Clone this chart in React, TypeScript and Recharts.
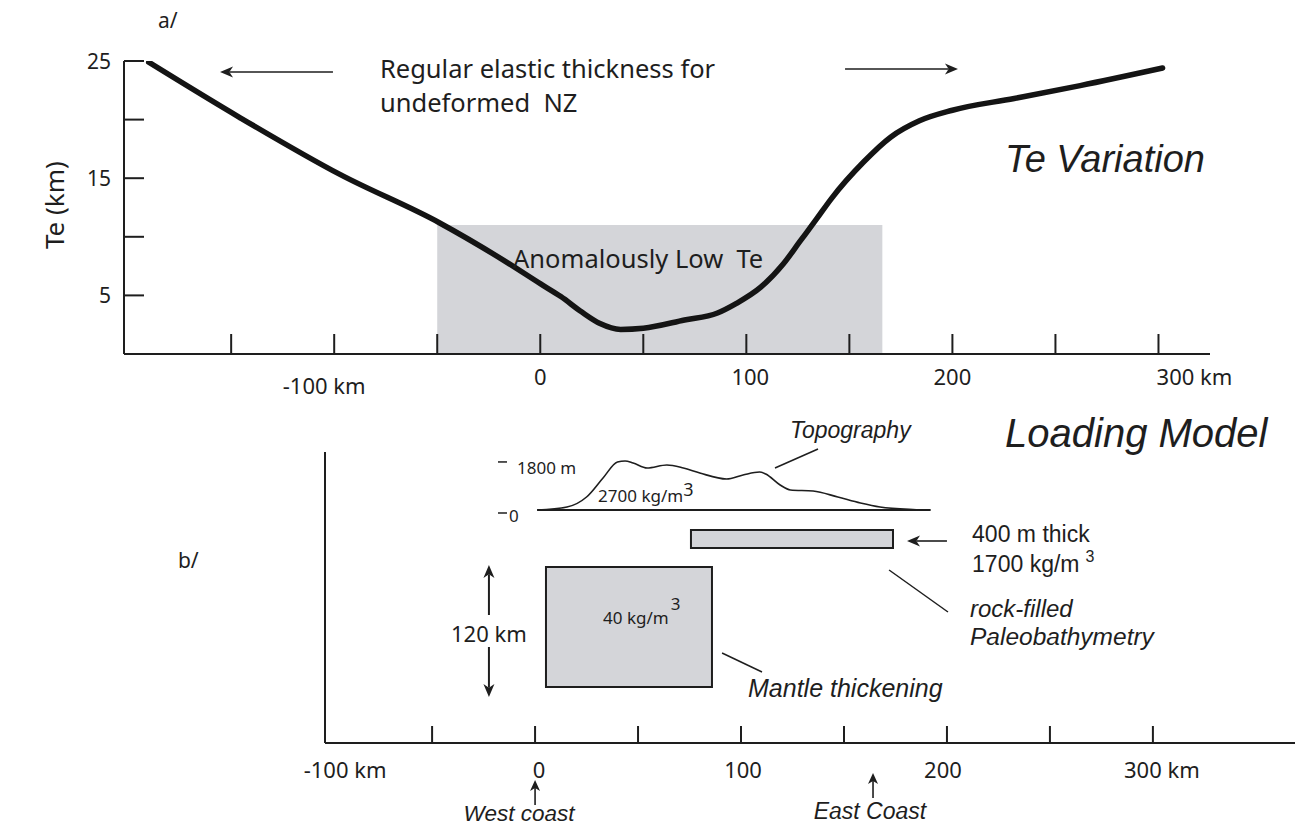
import React from 'react';
import { ComposedChart, Line, XAxis, YAxis, ReferenceArea, ReferenceLine, ReferenceDot } from 'recharts';

const SANS = '"Noto Sans", "Open Sans", sans-serif';
const HELV = '"Liberation Sans", Arial, Helvetica, sans-serif';
const INK = '#1e1e1e';
const GREY = '#d4d5d9';

// ---------- Panel a: Te variation ----------
const teDistanceKm = [-190, -146, -97, -49, -16, 0, 10, 20, 29, 39, 50, 70, 86, 95, 107, 118, 126, 134, 141, 157, 170, 184, 200, 230, 262, 302];
const teElasticKm = [24.9, 20.2, 15.3, 11.2, 7.8, 6.0, 4.9, 3.6, 2.6, 2.1, 2.2, 2.9, 3.5, 4.3, 5.7, 7.7, 9.6, 11.5, 13.2, 16.4, 18.5, 19.9, 20.8, 21.8, 22.9, 24.4];
const teXDomain = [-202, 325];
const teYDomain = [0, 25];
const teXTicks = [-150, -100, -50, 0, 50, 100, 150, 200, 250, 300];
const teXTickLabels = ['', '-100 km', '', '0', '', '100', '', '200', '', '300 km'];
const teYTicks = [0, 5, 10, 15, 20, 25];
const teYTickLabels = ['', '5', '', '15', '', '25'];
const lowTeZoneKm = [-50, 166];
const lowTeZoneTe = [0, 11];

// ---------- Panel b: Loading model ----------
const topoKm = [1, 15.5, 25, 33, 40, 43.7, 47.6, 54.4, 64, 72, 80, 93, 101, 109, 112, 119, 124, 135, 147, 158, 167.5, 183.5, 192];
const topoElevM = [0, 115, 498, 1226, 1838, 1877, 1800, 1609, 1724, 1609, 1417, 1187, 1340, 1455, 1379, 958, 766, 728, 498, 268, 115, 20, 0];
const topoBaseKm = [1, 192];
const modelXDomain = [-102, 369];
const modelDepthDomain = [0, 291];
const topoDomainM = [-8923, 2221];
const modelXTicks = [-100, -50, 0, 50, 100, 150, 200, 250, 300];
const modelXTickLabels = ['-100 km', '', '0', '', '100', '', '200', '', '300 km'];
const paleoLayerKm = [75.7, 173.8];
const paleoLayerDepth = [78, 96];
const mantleBoxKm = [5.3, 85.9];
const mantleBoxDepth = [115, 235];
const mantleArrowKm = -22.4;
const westCoastKm = 0;
const eastCoastKm = 164.1;

const teData = teDistanceKm.map((km, i) => ({ km, te: teElasticKm[i] }));
const topoData = topoKm.map((km, i) => ({ km, m: topoElevM[i] }));

// label nudges (style only): [dx, dy] per labelled tick value
const teTickNudge: Record<number, [number, number]> = { [-100]: [-10, 9], 0: [0, 0], 100: [4, 0], 200: [0, 0], 300: [36, 0] };
const modelTickNudge: Record<number, [number, number]> = { [-100]: [16, 0], 0: [4, 0], 100: [2, 0], 200: [-4, 0], 300: [9, 0] };

const txt = (content: React.ReactNode, attrs: any) => (p: any) => (
  <text x={p.cx} y={p.cy} fill={INK} {...attrs}>{content}</text>
);

const arrow = (head: 'start' | 'end', sw = 1.6, hl = 13, hw = 5.5) => (p: any) => {
  const { x1, y1, x2, y2 } = p;
  const tx = head === 'end' ? x2 : x1;
  const ty = head === 'end' ? y2 : y1;
  const bx = head === 'end' ? x1 : x2;
  const by = head === 'end' ? y1 : y2;
  const dx = tx - bx;
  const dy = ty - by;
  const len = Math.hypot(dx, dy) || 1;
  const ux = dx / len;
  const uy = dy / len;
  const nx = -uy;
  const ny = ux;
  const baseX = tx - ux * hl;
  const baseY = ty - uy * hl;
  const notchX = tx - ux * hl * 0.72;
  const notchY = ty - uy * hl * 0.72;
  const d = `M${tx},${ty} L${baseX + nx * hw},${baseY + ny * hw} L${notchX},${notchY} L${baseX - nx * hw},${baseY - ny * hw} Z`;
  return (
    <g>
      <line x1={bx} y1={by} x2={notchX} y2={notchY} stroke={INK} strokeWidth={sw} />
      <path d={d} fill={INK} />
    </g>
  );
};

const plain = (sw: number) => (p: any) => (
  <line x1={p.x1} y1={p.y1} x2={p.x2} y2={p.y2} stroke={INK} strokeWidth={sw} />
);

const TeXTick = (p: any) => {
  const v = p.payload.value;
  const i = teXTicks.indexOf(v);
  const label = teXTickLabels[i];
  const n = teTickNudge[v] || [0, 0];
  return (
    <g>
      <line x1={p.x} y1={p.y} x2={p.x} y2={p.y - 20} stroke={INK} strokeWidth={2} />
      {label ? (
        <text x={p.x + n[0]} y={p.y + 31 + n[1]} textAnchor="middle" fontFamily={SANS} fontSize={22} fill={INK}>{label}</text>
      ) : null}
    </g>
  );
};

const TeYTick = (p: any) => {
  const i = teYTicks.indexOf(p.payload.value);
  const label = teYTickLabels[i];
  return (
    <g>
      <line x1={p.x} y1={p.y} x2={p.x + 20} y2={p.y} stroke={INK} strokeWidth={2} />
      {label ? (
        <text x={p.x - 13} y={p.y} dy="0.36em" textAnchor="end" fontFamily={SANS} fontSize={21} fill={INK}>{label}</text>
      ) : null}
    </g>
  );
};

const ModelXTick = (p: any) => {
  const v = p.payload.value;
  const i = modelXTicks.indexOf(v);
  const label = modelXTickLabels[i];
  const n = modelTickNudge[v] || [0, 0];
  return (
    <g>
      {v > modelXDomain[0] + 5 ? <line x1={p.x} y1={p.y} x2={p.x} y2={p.y - 17} stroke={INK} strokeWidth={2} /> : null}
      {label ? (
        <text x={p.x + n[0]} y={p.y + 35 + n[1]} textAnchor="middle" fontFamily={SANS} fontSize={22} fill={INK}>{label}</text>
      ) : null}
    </g>
  );
};

const topoTick = (label: string, dashDy: number) => (p: any) => (
  <g>
    <line x1={p.cx} y1={p.cy + dashDy} x2={p.cx + 9} y2={p.cy + dashDy} stroke={INK} strokeWidth={1.5} />
    <text x={p.cx + (label === '0' ? 11 : 19)} y={p.cy + 12} fontFamily={SANS} fontSize={17} fill={INK}>{label}</text>
  </g>
);

export default function App() {
  return (
    <div style={{ position: 'absolute', left: 0, top: 0, width: 1296, height: 826, background: '#fff', overflow: 'hidden' }}>
      <div style={{ position: 'absolute', left: 0, top: 0 }}>
        <ComposedChart width={1296} height={420} data={teData} margin={{ top: 61, right: 86, bottom: 36, left: 0 }}>
          <XAxis dataKey="km" type="number" domain={teXDomain} ticks={teXTicks} interval={0} allowDataOverflow
            height={30} tickSize={0} tickMargin={0} tickLine={false} tick={TeXTick}
            axisLine={{ stroke: INK, strokeWidth: 2 }} />
          <YAxis type="number" domain={teYDomain} ticks={teYTicks} interval={0} allowDataOverflow width={124}
            tickSize={0} tickMargin={0} tickLine={false} tick={TeYTick} axisLine={{ stroke: INK, strokeWidth: 2 }} />
          <ReferenceArea x1={lowTeZoneKm[0]} x2={lowTeZoneKm[1]} y1={lowTeZoneTe[0]} y2={lowTeZoneTe[1]}
            fill={GREY} fillOpacity={1} stroke="none" ifOverflow="visible" />
          <Line dataKey="te" type="monotone" stroke="#141414" strokeWidth={5.5} dot={false} isAnimationActive={false} strokeLinecap="round" />
          <ReferenceDot x={-185.5} y={27.8} r={1} ifOverflow="visible" shape={txt('a/', { fontFamily: SANS, fontSize: 21 })} />
          <ReferenceDot x={-235.5} y={12.7} r={1} ifOverflow="visible"
            shape={(p: any) => (
              <text x={p.cx} y={p.cy} transform={`rotate(-90 ${p.cx} ${p.cy})`} textAnchor="middle" dy="0.36em"
                fontFamily={SANS} fontSize={26} fill={INK}>Te (km)</text>
            )} />
          <ReferenceLine segment={[{ x: -100.6, y: 24.06 }, { x: -155.4, y: 24.06 }]} ifOverflow="visible" shape={arrow('end')} />
          <ReferenceLine segment={[{ x: 147.9, y: 24.32 }, { x: 202.7, y: 24.32 }]} ifOverflow="visible" shape={arrow('end')} />
          <ReferenceDot x={-77.8} y={23.55} r={1} ifOverflow="visible" shape={txt('Regular elastic thickness for', { fontFamily: SANS, fontSize: 25.5 })} />
          <ReferenceDot x={-77.8} y={20.65} r={1} ifOverflow="visible" shape={txt('undeformed\u00a0\u00a0NZ', { fontFamily: SANS, fontSize: 25.5 })} />
          <ReferenceDot x={225.5} y={15.53} r={1} ifOverflow="visible" shape={txt('Te Variation', { fontFamily: HELV, fontSize: 38, fontStyle: 'italic' })} />
          <ReferenceDot x={-13.2} y={7.34} r={1} ifOverflow="visible" shape={txt('Anomalously Low\u00a0\u00a0Te', { fontFamily: SANS, fontSize: 25.5 })} />
        </ComposedChart>
      </div>
      <div style={{ position: 'absolute', left: 0, top: 400 }}>
        <ComposedChart width={1296} height={426} data={topoData} margin={{ top: 52, right: 1, bottom: 53, left: 0 }}>
          <XAxis dataKey="km" type="number" domain={modelXDomain} ticks={modelXTicks} interval={0} allowDataOverflow
            height={30} tickSize={0} tickMargin={0} tickLine={false} tick={ModelXTick}
            axisLine={{ stroke: INK, strokeWidth: 2 }} />
          <YAxis yAxisId="depth" type="number" reversed domain={modelDepthDomain} allowDataOverflow width={325}
            tick={false} tickLine={false} axisLine={{ stroke: INK, strokeWidth: 2 }} />
          <YAxis yAxisId="topo" orientation="right" hide type="number" domain={topoDomainM} allowDataOverflow />
          <ReferenceArea yAxisId="depth" x1={paleoLayerKm[0]} x2={paleoLayerKm[1]} y1={paleoLayerDepth[0]} y2={paleoLayerDepth[1]}
            fill={GREY} fillOpacity={1} stroke={INK} strokeWidth={2} ifOverflow="visible" />
          <ReferenceArea yAxisId="depth" x1={mantleBoxKm[0]} x2={mantleBoxKm[1]} y1={mantleBoxDepth[0]} y2={mantleBoxDepth[1]}
            fill={GREY} fillOpacity={1} stroke={INK} strokeWidth={2} ifOverflow="visible" />
          <ReferenceLine yAxisId="topo" segment={[{ x: topoBaseKm[0], y: 0 }, { x: topoBaseKm[1], y: 0 }]} ifOverflow="visible" shape={plain(1.8)} />
          <Line yAxisId="topo" dataKey="m" type="monotone" stroke={INK} strokeWidth={1.6} dot={false} isAnimationActive={false} />
          <ReferenceDot yAxisId="topo" x={-18} y={1840} r={1} ifOverflow="visible" shape={topoTick('1800 m', 0)} />
          <ReferenceDot yAxisId="topo" x={-18} y={0} r={1} ifOverflow="visible" shape={topoTick('0', 3)} />
          <ReferenceDot yAxisId="depth" x={30.6} y={50} r={1} ifOverflow="visible"
            shape={txt(<>2700 kg/m<tspan dy={-6} fontSize={18}>3</tspan></>, { fontFamily: SANS, fontSize: 17 })} />
          <ReferenceDot yAxisId="depth" x={123.8} y={-14} r={1} ifOverflow="visible" shape={txt('Topography', { fontFamily: HELV, fontSize: 23, fontStyle: 'italic' })} />
          <ReferenceLine yAxisId="depth" segment={[{ x: 137.4, y: -3 }, { x: 116.5, y: 16 }]} ifOverflow="visible" shape={plain(1.5)} />
          <ReferenceDot yAxisId="depth" x={228.2} y={-5} r={1} ifOverflow="visible" shape={txt('Loading Model', { fontFamily: HELV, fontSize: 40, fontStyle: 'italic' })} />
          <ReferenceLine yAxisId="depth" segment={[{ x: 200.0, y: 89 }, { x: 180.6, y: 89 }]} ifOverflow="visible" shape={arrow('end')} />
          <ReferenceDot yAxisId="depth" x={212.2} y={90} r={1} ifOverflow="visible" shape={txt('400 m thick', { fontFamily: HELV, fontSize: 23 })} />
          <ReferenceDot yAxisId="depth" x={212.2} y={120} r={1} ifOverflow="visible"
            shape={txt(<>1700 kg/m<tspan dx={6} dy={-10} fontSize={16}>3</tspan></>, { fontFamily: HELV, fontSize: 23 })} />
          <ReferenceLine yAxisId="depth" segment={[{ x: 171.9, y: 118 }, { x: 200.5, y: 160 }]} ifOverflow="visible" shape={plain(1.5)} />
          <ReferenceDot yAxisId="depth" x={211.2} y={165} r={1} ifOverflow="visible" shape={txt('rock-filled', { fontFamily: HELV, fontSize: 24, fontStyle: 'italic' })} />
          <ReferenceDot yAxisId="depth" x={211.2} y={193} r={1} ifOverflow="visible" shape={txt('Paleobathymetry', { fontFamily: HELV, fontSize: 24.5, fontStyle: 'italic' })} />
          <ReferenceDot yAxisId="depth" x={33.0} y={172} r={1} ifOverflow="visible"
            shape={txt(<>40 kg/m<tspan dx={2} dy={-14} fontSize={17}>3</tspan></>, { fontFamily: SANS, fontSize: 17 })} />
          <ReferenceLine yAxisId="depth" segment={[{ x: 90.8, y: 201 }, { x: 110.2, y: 220 }]} ifOverflow="visible" shape={plain(1.5)} />
          <ReferenceDot yAxisId="depth" x={103.4} y={245} r={1} ifOverflow="visible" shape={txt('Mantle thickening', { fontFamily: HELV, fontSize: 25, fontStyle: 'italic' })} />
          <ReferenceLine yAxisId="depth" segment={[{ x: mantleArrowKm, y: 163 }, { x: mantleArrowKm, y: 113 }]} ifOverflow="visible" shape={arrow('end', 2)} />
          <ReferenceLine yAxisId="depth" segment={[{ x: mantleArrowKm, y: 195 }, { x: mantleArrowKm, y: 245 }]} ifOverflow="visible" shape={arrow('end', 2)} />
          <ReferenceDot yAxisId="depth" x={mantleArrowKm} y={190} r={1} ifOverflow="visible" shape={txt('120 km', { fontFamily: SANS, fontSize: 22, textAnchor: 'middle' })} />
          <ReferenceDot yAxisId="depth" x={-173.4} y={116} r={1} ifOverflow="visible" shape={txt('b/', { fontFamily: SANS, fontSize: 21 })} />
          <ReferenceLine yAxisId="depth" segment={[{ x: westCoastKm, y: 353 }, { x: westCoastKm, y: 328 }]} ifOverflow="visible" shape={arrow('end', 1.6, 11, 5)} />
          <ReferenceDot yAxisId="depth" x={-7.8} y={369} r={1} ifOverflow="visible" shape={txt('West coast', { fontFamily: HELV, fontSize: 22.5, fontStyle: 'italic', textAnchor: 'middle' })} />
          <ReferenceLine yAxisId="depth" segment={[{ x: eastCoastKm, y: 346 }, { x: eastCoastKm, y: 321 }]} ifOverflow="visible" shape={arrow('end', 1.6, 11, 5)} />
          <ReferenceDot yAxisId="depth" x={162.6} y={367} r={1} ifOverflow="visible" shape={txt('East Coast', { fontFamily: HELV, fontSize: 23, fontStyle: 'italic', textAnchor: 'middle' })} />
        </ComposedChart>
      </div>
    </div>
  );
}
